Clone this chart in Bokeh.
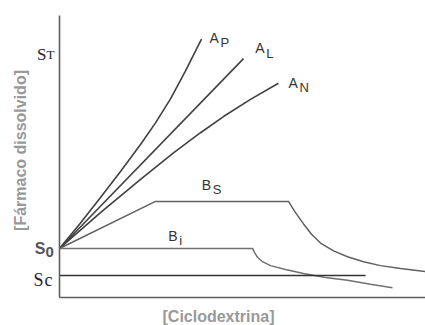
from bokeh.plotting import figure
from bokeh.models import Range1d, FixedTicker, ColumnDataSource
from bokeh.core.properties import value
from bokeh.embed import file_html
from bokeh.resources import INLINE
import math

# ---- data (arbitrary units: x = [Ciclodextrina], y = [Fármaco dissolvido]) ----
S0 = 1.0
SC = 0.45
ST = 5.0
X_AXIS_END = 10.223
Y_AXIS_END = 5.75

ap_x = [0.0, 0.587, 1.145, 1.704, 2.263, 2.682, 3.101, 3.520, 3.966]
ap_y = [1.0, 1.52, 2.04, 2.57, 3.12, 3.56, 4.05, 4.62, 5.27]

al_x = [0.0, 5.14]
al_y = [1.0, 4.87]

an_x = [0.0, 1.145, 2.263, 3.184, 3.939, 4.581, 5.335, 6.117]
an_y = [1.0, 1.73, 2.41, 2.95, 3.36, 3.69, 4.04, 4.37]

bs_x = [0.0, 2.682, 6.397, 6.564, 6.816, 7.039, 7.291, 7.654, 8.045, 8.492,
        8.966, 9.525, 10.223]
bs_y = [1.0, 1.96, 1.96, 1.76, 1.50, 1.29, 1.11, 0.95, 0.83, 0.73,
        0.65, 0.59, 0.53]

bi_x = [0.0, 5.391, 5.447, 5.531, 5.670, 5.894, 6.313, 6.816, 7.430, 8.045,
        8.687, 9.302]
bi_y = [1.0, 1.00, 0.92, 0.82, 0.73, 0.65, 0.57, 0.49, 0.41, 0.35,
        0.27, 0.20]

sc_x = [0.0, 8.55]
sc_y = [SC, SC]

# curve labels: main letter, subscript, anchor (x, y)
lab_main = ["A", "A", "A", "B", "B"]
lab_sub = ["P", "L", "N", "S", "i"]
lab_x = [4.19, 5.47, 6.40, 3.97, 3.04]
lab_y = [5.30, 5.08, 4.38, 2.30, 1.26]

X_TITLE = "[Ciclodextrina]"
Y_TITLE = "[Fármaco dissolvido]"

# ---- figure (frame = whole canvas, axes drawn at data 0) ----
X0, X1 = -59 / 35.8, 366 / 35.8
Y0, Y1 = -28 / 49.04, 297 / 49.04
p = figure(width=425, height=325, output_backend="svg", toolbar_location=None,
           x_range=Range1d(X0, X1), y_range=Range1d(Y0, Y1),
           min_border=0)
p.outline_line_color = None
p.grid.visible = False
p.background_fill_color = "white"
p.border_fill_color = "white"

for ax in (p.xaxis[0], p.yaxis[0]):
    ax.ticker = FixedTicker(ticks=[])
    ax.major_tick_line_color = None
    ax.minor_tick_line_color = None
    ax.major_label_text_font_size = "0px"
    ax.axis_line_color = "#5e5e5e"
    ax.axis_line_width = 1.6
    ax.fixed_location = 0
p.xaxis[0].bounds = (0, X_AXIS_END)
p.yaxis[0].bounds = (0, Y_AXIS_END)

CURVE = "#404040"
p.line(ap_x, ap_y, line_color=CURVE, line_width=1.6)
p.line(al_x, al_y, line_color=CURVE, line_width=1.6)
p.line(an_x, an_y, line_color=CURVE, line_width=1.6)
p.line(bs_x, bs_y, line_color="#606060", line_width=1.5)
p.line(bi_x, bi_y, line_color="#707070", line_width=1.5)
p.line(sc_x, sc_y, line_color="#333333", line_width=1.5)

SANS = value("Liberation Sans")
SERIF = value("Liberation Serif")

src = ColumnDataSource(dict(x=lab_x, y=lab_y, main=lab_main, sub=lab_sub))
p.text(x="x", y="y", text="main", source=src, text_font=SANS,
       text_font_size="14px", text_color="#333333", text_baseline="alphabetic",
       text_align="left")
p.text(x="x", y="y", text="sub", source=src, text_font=SANS,
       text_font_size="13px", text_color="#333333", text_baseline="alphabetic",
       text_align="left", x_offset=11, y_offset=5)

# y tick labels (letter + subscript)
def tick(main, sub, yv, font, size_m, size_s, color, style, xo_m, xo_s, dy_m, dy_s):
    p.text(x=[0], y=[yv], text=[main], x_offset=xo_m, y_offset=dy_m,
           text_align="right", text_baseline="alphabetic", text_font=font,
           text_font_size=size_m, text_color=color, text_font_style=style)
    p.text(x=[0], y=[yv], text=[sub], x_offset=xo_s, y_offset=dy_s,
           text_align="left", text_baseline="alphabetic", text_font=font,
           text_font_size=size_s, text_color=color, text_font_style=style)

tick("S", "T", ST, SERIF, "17px", "13px", "#222233", "normal", -13, -13, 2, 2)
tick("S", "0", S0, SANS, "16px", "15px", "#555555", "bold", -14, -14, 0, 4)
tick("S", "c", SC, SERIF, "18px", "18px", "#222233", "normal", -16, -15, 5, 5)

# axis titles
p.text(x=[2.877], y=[-0.224], text=[X_TITLE], text_align="left",
       text_baseline="top", text_font=SANS, text_font_size="16px",
       text_font_style="bold", text_color="#999999")
p.text(x=[-1.089], y=[2.998], text=[Y_TITLE], angle=math.pi / 2,
       text_align="center", text_baseline="middle", text_font=SANS,
       text_font_size="16px", text_font_style="bold", text_color="#999999")

open("out.html", "w").write(file_html(p, INLINE))
